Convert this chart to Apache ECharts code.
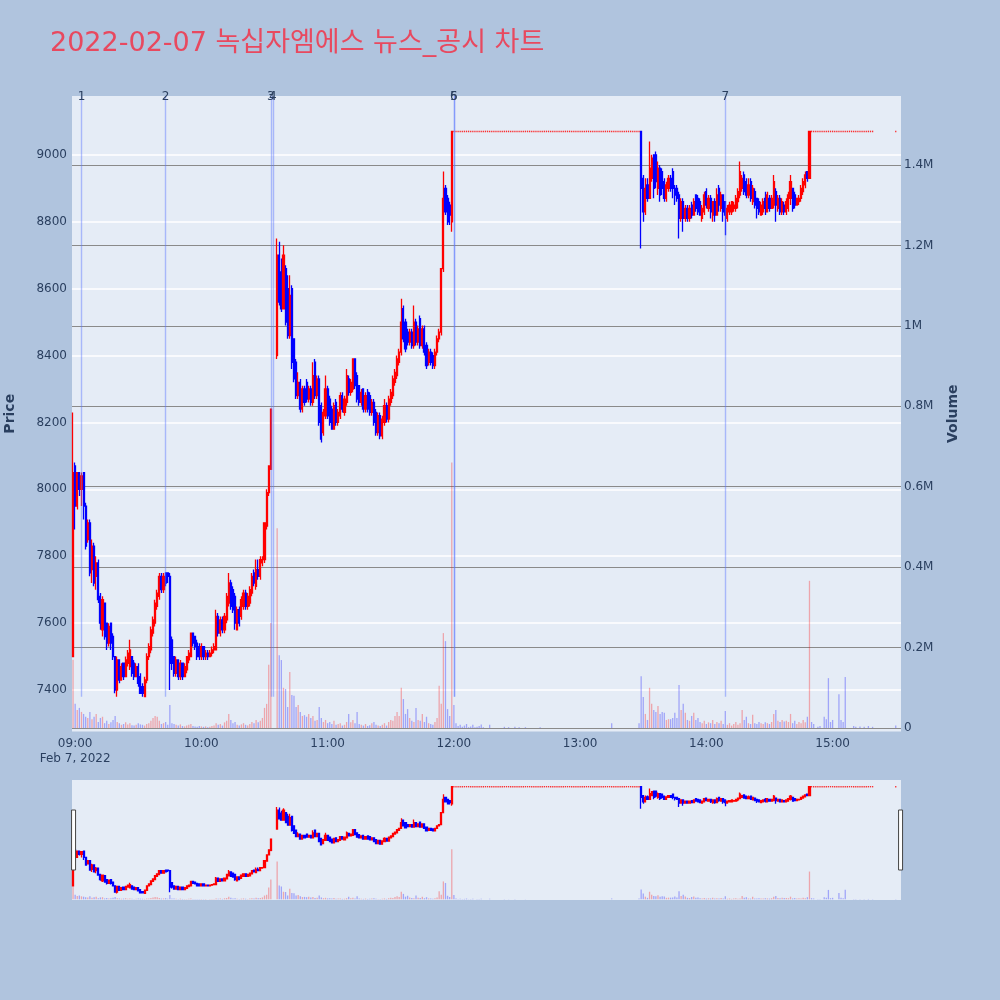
<!DOCTYPE html>
<html><head><meta charset="utf-8">
<script src="https://cdn.jsdelivr.net/npm/echarts@6/dist/echarts.min.js"></script>
<style>html,body{margin:0;padding:0;background:#b0c4de}#chart{width:1000px;height:1000px}</style>
</head><body><div id="chart"></div>
<script>
// ---- categories: one per minute, 08:59 .. 15:32 ----
const times = [];
for (let m = 8 * 60 + 59; m <= 15 * 60 + 32; m++) {
  times.push(String(Math.floor(m / 60)).padStart(2, '0') + ':' + String(m % 60).padStart(2, '0'));
}

// ---- candles: [open, close, low, high], null = no trade ----
const candles = [
  // 08:59 - 09:08
  [7500,8050,7500,8230],[8070,7950,7880,8080],[7950,8050,7940,8050],[8050,8000,7980,8050],[8000,8040,7950,8050],[8050,7950,7910,8050],[7950,7830,7820,7960],[7850,7900,7840,7910],[7900,7750,7740,7910],[7760,7830,7720,7850],
  [7830,7720,7710,7840],[7740,7780,7700,7800],[7780,7670,7660,7790],[7680,7600,7580,7690],[7580,7670,7560,7680],[7660,7560,7550,7660],[7600,7540,7520,7600],[7540,7590,7530,7600],[7600,7540,7520,7600],[7560,7500,7490,7570],
  [7500,7400,7390,7500],[7400,7490,7380,7500],[7490,7430,7420,7490],[7430,7470,7430,7480],[7480,7440,7430,7480],[7440,7490,7440,7500],[7480,7510,7470,7520],[7470,7520,7460,7550],[7500,7450,7440,7500],[7480,7440,7430,7490],
  [7440,7470,7440,7480],[7470,7420,7410,7480],[7440,7390,7390,7450],[7410,7390,7380,7420],[7380,7430,7380,7440],[7430,7500,7420,7510],[7500,7530,7490,7540],[7520,7580,7510,7590],[7570,7610,7560,7620],[7600,7660,7590,7670],
  [7650,7690,7640,7700],[7680,7740,7670,7750],[7740,7700,7690,7750],[7700,7740,7690,7750],[7750,7720,7710,7750],[7750,7740,7720,7750],[7740,7480,7400,7750],[7550,7480,7460,7560],[7500,7450,7440,7500],[7450,7490,7440,7500],
  [7490,7440,7430,7490],[7440,7480,7430,7490],[7480,7440,7430,7480],[7440,7470,7440,7480],[7460,7500,7450,7500],[7490,7510,7480,7520],[7500,7570,7500,7570],[7570,7540,7530,7570],[7560,7530,7520,7560],[7540,7500,7490,7550],
  [7530,7500,7490,7540],[7500,7530,7490,7540],[7530,7500,7490,7530],[7500,7510,7490,7520],[7510,7500,7490,7520],[7500,7510,7500,7520],[7510,7520,7500,7530],[7520,7530,7510,7540],[7520,7620,7520,7640],[7620,7570,7560,7630],
  [7570,7610,7560,7620],[7610,7580,7570,7620],[7580,7620,7570,7630],[7610,7680,7600,7690],[7660,7720,7650,7750],[7720,7650,7640,7730],[7700,7640,7630,7710],[7680,7600,7580,7690],[7580,7640,7580,7650],[7640,7600,7590,7650],
  [7620,7670,7610,7680],[7650,7690,7640,7700],[7690,7650,7640,7700],[7650,7680,7640,7690],[7660,7700,7650,7710],[7690,7740,7680,7750],[7750,7720,7710,7760],[7710,7760,7700,7790],[7760,7740,7730,7790],[7740,7790,7730,7800],
  [7780,7790,7770,7800],[7790,7900,7780,7900],[7890,7990,7880,8000],[7990,8070,7980,8070],[8060,8240,8060,8240],null,null,[8400,8700,8390,8750],[8700,8560,8550,8740],[8650,8540,8530,8690],
  [8540,8700,8540,8730],[8660,8500,8490,8670],[8600,8460,8450,8640],[8460,8580,8450,8640],[8600,8380,8360,8610],[8450,8330,8320,8450],[8380,8280,8270,8390],[8280,8320,8270,8350],[8320,8240,8230,8330],[8240,8300,8230,8310],
  [8300,8260,8250,8310],[8320,8270,8260,8330],[8270,8300,8260,8310],[8300,8260,8250,8310],[8260,8340,8250,8380],[8380,8280,8270,8390],[8280,8330,8270,8340],[8330,8200,8190,8340],[8250,8150,8140,8260],[8170,8230,8160,8240],
  [8220,8300,8210,8340],[8300,8220,8210,8310],[8270,8200,8190,8280],[8240,8180,8180,8250],[8180,8250,8180,8260],[8260,8200,8190,8270],[8200,8230,8190,8240],[8220,8280,8210,8290],[8280,8240,8230,8290],[8230,8270,8220,8280],
  [8260,8340,8250,8360],[8330,8290,8280,8340],[8290,8320,8280,8330],[8300,8390,8290,8390],[8390,8310,8300,8390],[8340,8270,8260,8350],[8310,8260,8250,8310],[8260,8290,8250,8300],[8300,8240,8230,8300],[8240,8280,8230,8290],
  [8290,8240,8230,8300],[8280,8230,8220,8290],[8230,8260,8220,8270],[8260,8200,8190,8270],[8230,8170,8160,8240],[8170,8220,8160,8230],[8220,8160,8150,8230],[8160,8210,8150,8220],[8200,8250,8190,8270],[8250,8210,8200,8260],
  [8210,8270,8200,8280],[8260,8290,8250,8300],[8280,8330,8270,8340],[8320,8350,8310,8360],[8340,8390,8330,8400],[8380,8410,8370,8420],[8410,8500,8400,8570],[8540,8450,8440,8550],[8500,8420,8410,8510],[8470,8440,8430,8480],
  [8440,8470,8430,8480],[8470,8430,8420,8480],[8430,8500,8420,8550],[8500,8440,8430,8510],[8440,8480,8430,8490],[8510,8430,8420,8520],[8430,8480,8420,8490],[8480,8410,8400,8490],[8430,8370,8360,8440],[8380,8410,8370,8420],
  [8410,8380,8370,8420],[8400,8370,8360,8410],[8370,8410,8360,8420],[8410,8450,8400,8460],[8450,8470,8440,8480],[8470,8660,8460,8660],[8660,8870,8650,8950],[8900,8830,8820,8910],[8870,8800,8790,8880],[8850,8820,8790,8860],
  // 11:59
  [8800,9070,8770,9070],
  // 12:00 - 13:28 limit-up
  [9070,9070,9070,9070],[9070,9070,9070,9070],[9070,9070,9070,9070],[9070,9070,9070,9070],[9070,9070,9070,9070],[9070,9070,9070,9070],[9070,9070,9070,9070],[9070,9070,9070,9070],[9070,9070,9070,9070],
  [9070,9070,9070,9070],[9070,9070,9070,9070],[9070,9070,9070,9070],[9070,9070,9070,9070],[9070,9070,9070,9070],[9070,9070,9070,9070],[9070,9070,9070,9070],[9070,9070,9070,9070],[9070,9070,9070,9070],[9070,9070,9070,9070],
  [9070,9070,9070,9070],[9070,9070,9070,9070],[9070,9070,9070,9070],[9070,9070,9070,9070],[9070,9070,9070,9070],[9070,9070,9070,9070],[9070,9070,9070,9070],[9070,9070,9070,9070],[9070,9070,9070,9070],[9070,9070,9070,9070],
  [9070,9070,9070,9070],[9070,9070,9070,9070],[9070,9070,9070,9070],[9070,9070,9070,9070],[9070,9070,9070,9070],[9070,9070,9070,9070],[9070,9070,9070,9070],[9070,9070,9070,9070],[9070,9070,9070,9070],[9070,9070,9070,9070],
  [9070,9070,9070,9070],[9070,9070,9070,9070],[9070,9070,9070,9070],[9070,9070,9070,9070],[9070,9070,9070,9070],[9070,9070,9070,9070],[9070,9070,9070,9070],[9070,9070,9070,9070],[9070,9070,9070,9070],[9070,9070,9070,9070],
  [9070,9070,9070,9070],[9070,9070,9070,9070],[9070,9070,9070,9070],[9070,9070,9070,9070],[9070,9070,9070,9070],[9070,9070,9070,9070],[9070,9070,9070,9070],[9070,9070,9070,9070],[9070,9070,9070,9070],[9070,9070,9070,9070],
  [9070,9070,9070,9070],[9070,9070,9070,9070],[9070,9070,9070,9070],[9070,9070,9070,9070],[9070,9070,9070,9070],[9070,9070,9070,9070],[9070,9070,9070,9070],[9070,9070,9070,9070],[9070,9070,9070,9070],[9070,9070,9070,9070],
  [9070,9070,9070,9070],[9070,9070,9070,9070],[9070,9070,9070,9070],[9070,9070,9070,9070],[9070,9070,9070,9070],[9070,9070,9070,9070],[9070,9070,9070,9070],[9070,9070,9070,9070],[9070,9070,9070,9070],[9070,9070,9070,9070],
  [9070,9070,9070,9070],[9070,9070,9070,9070],[9070,9070,9070,9070],[9070,9070,9070,9070],[9070,9070,9070,9070],[9070,9070,9070,9070],[9070,9070,9070,9070],[9070,9070,9070,9070],[9070,9070,9070,9070],[9070,9070,9070,9070],
  // 13:29 - 14:48
  [9070,8900,8720,9070],[8930,8830,8800,8940],[8830,8900,8820,8930],[8910,8870,8860,8930],[8870,8960,8870,9040],[8930,8990,8920,9000],[9000,8900,8870,9000],[9000,8920,8900,9010],[8900,8960,8880,8980],[8960,8880,8860,8970],
  [8950,8900,8880,8960],[8920,8870,8860,8930],[8870,8910,8860,8920],[8900,8930,8890,8940],[8930,8900,8890,8940],[8950,8900,8870,8960],[8900,8880,8850,8910],[8900,8870,8860,8910],[8880,8810,8750,8890],[8810,8860,8800,8870],
  [8860,8810,8770,8870],[8810,8840,8800,8850],[8840,8810,8800,8850],[8810,8840,8800,8850],[8850,8820,8810,8860],[8820,8860,8820,8870],[8880,8840,8830,8880],[8870,8830,8820,8880],[8860,8820,8820,8870],[8810,8840,8800,8850],
  [8830,8880,8820,8890],[8890,8850,8840,8900],[8840,8870,8830,8880],[8870,8830,8810,8880],[8820,8860,8800,8860],[8860,8820,8800,8870],[8820,8880,8820,8900],[8900,8850,8830,8910],[8840,8880,8830,8890],[8880,8830,8800,8880],
  [8860,8820,8760,8860],[8810,8840,8800,8850],[8830,8850,8820,8860],[8830,8860,8820,8860],[8840,8850,8830,8860],[8840,8870,8830,8880],[8860,8890,8840,8900],[8880,8950,8870,8980],[8900,8930,8890,8940],[8940,8890,8880,8950],
  [8920,8880,8870,8930],[8880,8910,8870,8930],[8920,8870,8860,8930],[8860,8900,8850,8910],[8890,8850,8840,8900],[8870,8840,8810,8870],[8860,8830,8820,8870],[8820,8850,8820,8860],[8830,8860,8820,8870],[8870,8840,8820,8890],
  [8830,8880,8830,8890],[8870,8840,8830,8880],[8840,8870,8840,8880],[8850,8920,8840,8940],[8890,8850,8800,8900],[8840,8870,8830,8880],[8870,8830,8820,8880],[8830,8860,8820,8870],[8850,8830,8820,8860],[8830,8860,8820,8870],
  [8840,8880,8830,8890],[8870,8920,8850,8940],[8900,8840,8830,8900],[8880,8850,8840,8890],[8850,8870,8850,8870],[8860,8870,8850,8880],[8870,8900,8860,8910],[8890,8920,8880,8930],[8910,8940,8900,8950],[8950,8930,8920,8950],
  // 14:49
  [8930,9070,8930,9070],
  // 14:50 - 15:19 limit-up
  [9070,9070,9070,9070],[9070,9070,9070,9070],[9070,9070,9070,9070],[9070,9070,9070,9070],[9070,9070,9070,9070],[9070,9070,9070,9070],[9070,9070,9070,9070],[9070,9070,9070,9070],[9070,9070,9070,9070],
  [9070,9070,9070,9070],[9070,9070,9070,9070],[9070,9070,9070,9070],[9070,9070,9070,9070],[9070,9070,9070,9070],[9070,9070,9070,9070],[9070,9070,9070,9070],[9070,9070,9070,9070],[9070,9070,9070,9070],[9070,9070,9070,9070],
  [9070,9070,9070,9070],[9070,9070,9070,9070],[9070,9070,9070,9070],[9070,9070,9070,9070],[9070,9070,9070,9070],[9070,9070,9070,9070],[9070,9070,9070,9070],[9070,9070,9070,9070],[9070,9070,9070,9070],[9070,9070,9070,9070],
  [9070,9070,9070,9070],
  // 15:20 - 15:29 closing auction (no trades)
  null,null,null,null,null,null,null,null,null,null,
  // 15:30
  [9070,9070,9070,9070],
  // 15:31 - 15:32 (axis padding)
  null,null
];

// ---- volume per minute ----
const volumes = [
  170000,60000,45000,50000,40000,35000,28000,25000,40000,22000,
  28000,35000,15000,25000,28000,12000,18000,10000,14000,20000,
  30000,15000,12000,8000,10000,14000,9000,12000,7000,6000,
  8000,12000,9000,8000,6000,10000,12000,18000,25000,30000,
  28000,18000,10000,12000,15000,8000,57000,12000,10000,8000,
  6000,9000,5000,4000,6000,8000,10000,5000,4000,3000,
  5000,4000,3000,4000,2000,3000,5000,6000,12000,8000,
  10000,6000,14000,18000,35000,20000,12000,15000,8000,6000,
  9000,12000,8000,6000,10000,15000,12000,20000,14000,18000,
  25000,50000,60000,157000,261000,null,null,497000,181000,169000,
  100000,97000,52000,139000,82000,80000,52000,57000,40000,30000,
  32000,28000,35000,25000,30000,18000,20000,52000,25000,15000,
  20000,12000,15000,10000,18000,8000,10000,12000,6000,8000,
  15000,35000,14000,20000,12000,40000,10000,8000,6000,10000,
  5000,7000,12000,15000,8000,6000,5000,8000,12000,6000,
  15000,20000,18000,30000,40000,30000,100000,72000,35000,47000,
  25000,18000,15000,50000,20000,18000,35000,15000,28000,12000,
  10000,8000,15000,25000,105000,60000,236000,216000,47000,30000,
  660000,
  57000,12000,5000,8000,3000,6000,10000,2000,4000,
  8000,2000,3000,5000,9000,2000,0,0,8000,0,
  0,0,0,0,0,3000,0,2000,0,0,
  3000,0,2000,0,0,2000,0,0,0,0,
  0,0,2000,0,0,0,0,0,0,0,
  0,0,0,0,0,0,0,0,0,0,
  0,0,0,0,0,0,0,0,0,0,
  0,0,0,0,0,0,12000,0,0,0,
  0,0,0,0,0,0,0,0,0,12000,
  129000,77000,35000,20000,100000,60000,45000,40000,55000,35000,
  40000,38000,20000,22000,22000,25000,38000,25000,107000,45000,
  60000,38000,20000,18000,30000,38000,20000,25000,15000,12000,
  18000,10000,14000,12000,20000,10000,15000,12000,18000,10000,
  42000,8000,12000,6000,10000,15000,8000,12000,45000,20000,
  28000,12000,10000,33000,12000,10000,15000,12000,10000,14000,
  12000,10000,15000,35000,45000,18000,15000,20000,16000,18000,
  15000,35000,12000,18000,10000,15000,12000,20000,14000,28000,
  366000,
  15000,10000,0,3000,5000,0,28000,22000,124000,
  15000,20000,0,0,84000,20000,15000,127000,0,0,
  0,5000,3000,0,4000,0,3000,0,5000,0,
  3000,
  null,null,null,null,null,null,null,null,null,null,
  6000,
  null,null
];

// ---- news / disclosure markers ----
const newsTimes  = ['09:03', '09:43', '10:33', '10:34', '12:00', '12:00', '14:09'];
const newsLabels = ['1', '2', '3', '4', '5', '6', '7'];

// ---- axis ticks ----
const priceTicks  = [7400, 7600, 7800, 8000, 8200, 8400, 8600, 8800, 9000];
const volumeTicks = [0, 200000, 400000, 600000, 800000, 1000000, 1200000, 1400000];
const priceRange  = [7276, 9176];
const volumeRange = [-8700, 1571600];
const markerLow   = 7380;

const FONT = '"DejaVu Sans", "Noto Sans CJK KR", sans-serif';
const TXT = '#2a3f5f';

// flat (o=c=l=h) minutes are drawn as small red dashes; the candle body has no height there
const isFlat = c => c && c[0] === c[1] && c[2] === c[3] && c[0] === c[3];
const candleData = candles.map(c => (c && !isFlat(c)) ? c : ['-', '-', '-', '-']);
const flatData = candles.map(c => isFlat(c) ? c[1] : '-');
const volData = volumes.map(v => v == null ? '-' : v);
const volColor = p => {
  const c = candles[p.dataIndex];
  return (c && c[1] > c[0]) ? 'rgba(255,0,0,0.3)' : 'rgba(0,0,255,0.3)';
};
const candleStyle = {
  color: '#ff0000', color0: '#0000ff',
  borderColor: '#ff0000', borderColor0: '#0000ff', borderWidth: 1.3
};

const chart = echarts.init(document.getElementById('chart'), null, { renderer: 'canvas' });
chart.setOption({
  animation: false,
  backgroundColor: '#b0c4de',
  title: {
    text: '2022-02-07 녹십자엠에스 뉴스_공시 차트',
    left: 45, top: 25,
    textStyle: { color: '#e8495f', fontSize: 27, fontWeight: 'normal', fontFamily: FONT }
  },
  grid: [
    { left: 72, top: 96, width: 829, height: 635.5, show: true, backgroundColor: '#e5ecf6', borderWidth: 0, outerBoundsMode: 'none' },
    { left: 72, top: 780, width: 829, height: 120, show: true, backgroundColor: '#e5ecf6', borderWidth: 0, outerBoundsMode: 'none' }
  ],
  xAxis: [
    {
      type: 'category', gridIndex: 0, data: times, boundaryGap: true,
      axisLine: { show: false }, axisTick: { show: false }, splitLine: { show: false },
      axisLabel: {
        interval: (i, v) => /:00$/.test(v) && v >= '09:00' && v <= '15:00',
        formatter: v => v === '09:00' ? '09:00\nFeb 7, 2022' : v,
        color: TXT, fontSize: 12, fontFamily: FONT, margin: 5, lineHeight: 15
      }
    },
    { type: 'category', gridIndex: 1, data: times, boundaryGap: true, show: false }
  ],
  yAxis: [
    {
      type: 'value', gridIndex: 0, position: 'left', min: priceRange[0], max: priceRange[1],
      axisLine: { show: false }, axisTick: { show: false, customValues: priceTicks },
      axisLabel: { customValues: priceTicks, formatter: v => String(v), color: TXT, fontSize: 12, fontFamily: FONT, margin: 5 },
      splitLine: { show: true, lineStyle: { color: '#ffffff', width: 1.5 } },
      name: 'Price', nameLocation: 'middle', nameGap: 55, nameRotate: 90,
      nameTextStyle: { color: TXT, fontSize: 14, fontWeight: 'bold', fontFamily: FONT }
    },
    {
      type: 'value', gridIndex: 0, position: 'right', min: volumeRange[0], max: volumeRange[1],
      axisLine: { show: false }, axisTick: { show: false, customValues: volumeTicks },
      axisLabel: {
        customValues: volumeTicks, color: TXT, fontSize: 12, fontFamily: FONT, margin: 3,
        formatter: v => v === 0 ? '0' : (v / 1e6) + 'M'
      },
      splitLine: { show: true, lineStyle: { color: '#8a8a8a', width: 1.2 } },
      name: 'Volume', nameLocation: 'middle', nameGap: 45, nameRotate: 90,
      nameTextStyle: { color: TXT, fontSize: 14, fontWeight: 'bold', fontFamily: FONT }
    },
    { type: 'value', gridIndex: 1, min: priceRange[0], max: priceRange[1], show: false, splitLine: { show: false } },
    { type: 'value', gridIndex: 1, min: volumeRange[0], max: volumeRange[1], show: false, splitLine: { show: false } }
  ],
  dataZoom: [{
    type: 'slider', xAxisIndex: [0], start: 0, end: 100,
    left: 72, right: 99, top: 780, height: 120,
    backgroundColor: 'rgba(0,0,0,0)', borderColor: 'rgba(0,0,0,0)', fillerColor: 'rgba(0,0,0,0)',
    showDataShadow: false, showDetail: false, brushSelect: false,
    handleIcon: 'path://M0,0L4,0L4,60L0,60Z', handleSize: 60,
    handleStyle: { color: '#ffffff', borderColor: '#444444', borderWidth: 1 },
    moveHandleSize: 0, moveHandleStyle: { opacity: 0 },
    emphasis: { handleStyle: { color: '#ffffff', borderColor: '#444444' }, moveHandleStyle: { opacity: 0 } }
  }],
  series: [
    {
      type: 'bar', name: 'Volume', xAxisIndex: 0, yAxisIndex: 1, data: volData,
      barWidth: 1.3, itemStyle: { color: volColor }, z: 1, silent: true
    },
    {
      type: 'candlestick', name: 'Price', xAxisIndex: 0, yAxisIndex: 0, data: candleData,
      barWidth: 1.6, itemStyle: candleStyle, z: 2, silent: true,
      markLine: {
        silent: true, symbol: ['none', 'none'], animation: false,
        lineStyle: { color: 'rgba(90,120,255,0.45)', width: 1.4, type: 'solid' },
        label: { show: true, position: 'end', formatter: '{b}', color: TXT, fontSize: 12, fontFamily: FONT, distance: -7 },
        emphasis: { disabled: true },
        data: newsTimes.map((t, i) => [
          { coord: [t, markerLow], name: newsLabels[i] },
          { coord: [t, priceRange[1]] }
        ])
      }
    },
    {
      type: 'scatter', xAxisIndex: 0, yAxisIndex: 0, data: flatData,
      symbol: 'rect', symbolSize: [1.3, 1.6], itemStyle: { color: '#ff0000' }, z: 3, silent: true
    },
    {
      type: 'bar', xAxisIndex: 1, yAxisIndex: 3, data: volData,
      barWidth: 1.3, itemStyle: { color: volColor }, z: 1, silent: true
    },
    {
      type: 'candlestick', xAxisIndex: 1, yAxisIndex: 2, data: candleData,
      barWidth: 1.6, itemStyle: candleStyle, z: 2, silent: true
    },
    {
      type: 'scatter', xAxisIndex: 1, yAxisIndex: 2, data: flatData,
      symbol: 'rect', symbolSize: [1.3, 1.4], itemStyle: { color: '#ff0000' }, z: 3, silent: true
    }
  ]
});
</script>
</body></html>
